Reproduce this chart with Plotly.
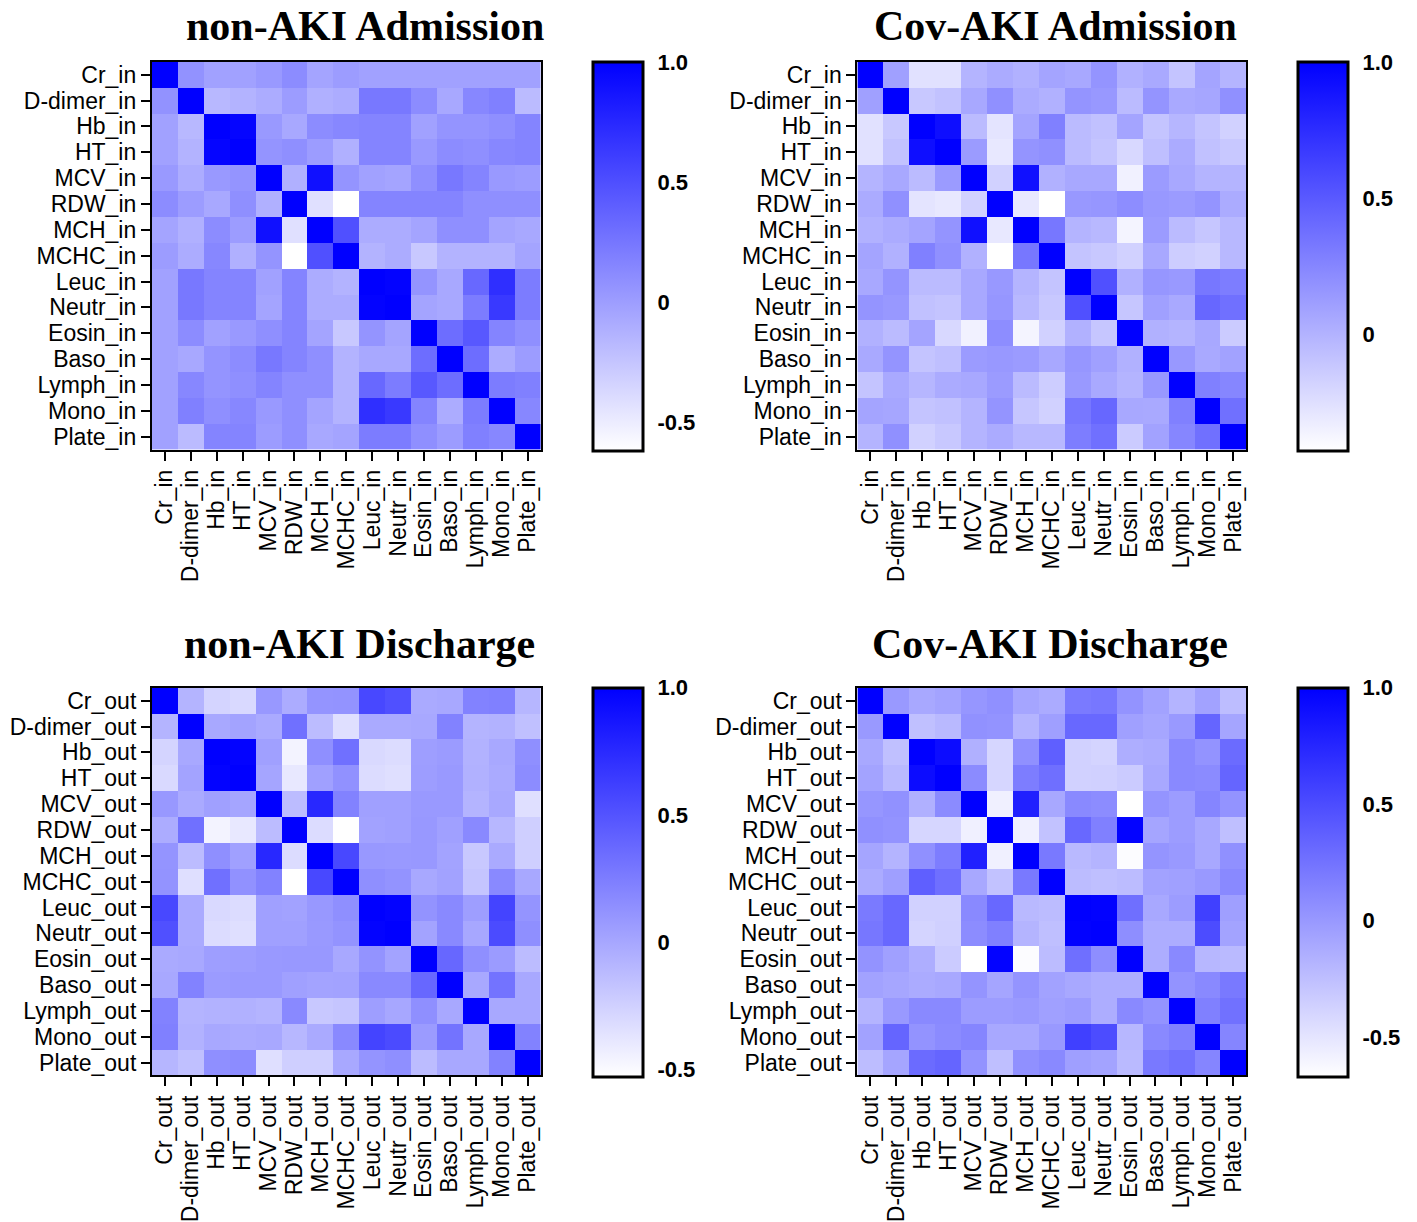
import numpy as np
import plotly.graph_objects as go

W, H = 1417, 1222

vars_base = ["Cr", "D-dimer", "Hb", "HT", "MCV", "RDW", "MCH", "MCHC",
             "Leuc", "Neutr", "Eosin", "Baso", "Lymph", "Mono", "Plate"]
labels_in = [v + "_in" for v in vars_base]
labels_out = [v + "_out" for v in vars_base]

titles = ["non-AKI Admission", "Cov-AKI Admission", "non-AKI Discharge", "Cov-AKI Discharge"]

# lower triangles (row i, columns 0..i-1) of each correlation matrix
lower_nonaki_adm = [
    [0.07],
    [-0.02, -0.17],
    [-0.02, -0.14, 0.97],
    [0.03, -0.09, 0.03, 0.06],
    [0.11, 0.01, -0.07, 0.09, -0.12],
    [-0.04, -0.12, 0.11, 0.01, 0.90, -0.42],
    [0.01, -0.09, 0.14, -0.12, 0.06, -0.62, 0.49],
    [-0.02, 0.24, 0.16, 0.16, -0.02, 0.16, -0.09, -0.14],
    [-0.02, 0.24, 0.16, 0.16, -0.04, 0.16, -0.09, -0.09, 0.98],
    [-0.02, 0.11, -0.02, 0.03, 0.09, 0.16, -0.04, -0.27, 0.06, -0.04],
    [-0.02, -0.07, 0.06, 0.11, 0.24, 0.16, 0.09, -0.14, -0.07, -0.07, 0.31],
    [-0.02, 0.14, 0.06, 0.09, 0.16, 0.09, 0.09, -0.14, 0.34, 0.21, 0.44, 0.31],
    [-0.02, 0.19, 0.09, 0.14, 0.03, 0.09, -0.04, -0.14, 0.70, 0.64, 0.16, -0.09, 0.21],
    [-0.02, -0.19, 0.16, 0.16, 0.01, 0.09, -0.07, -0.04, 0.21, 0.21, 0.09, 0.01, 0.19, 0.14],
]
lower_covaki_adm = [
    [0.10],
    [-0.26, -0.12],
    [-0.26, -0.09, 0.92],
    [-0.01, 0.06, -0.05, 0.13],
    [0.04, 0.19, -0.28, -0.30, -0.17],
    [0.01, 0.04, 0.08, 0.17, 0.91, -0.30],
    [0.08, 0.01, 0.28, 0.19, 0.01, -0.43, 0.33],
    [0.06, 0.17, -0.05, -0.05, 0.06, 0.15, -0.01, -0.10],
    [0.17, 0.15, -0.08, -0.10, 0.06, 0.16, -0.03, -0.12, 0.55],
    [0.01, -0.05, 0.08, -0.21, -0.35, 0.21, -0.37, -0.17, 0.01, -0.11],
    [0.05, 0.17, -0.10, -0.07, 0.13, 0.15, 0.13, 0.06, 0.16, 0.10, 0.01],
    [-0.10, 0.05, -0.02, 0.04, 0.06, 0.13, -0.05, -0.15, 0.14, 0.05, -0.01, 0.15],
    [0.08, 0.07, -0.10, -0.08, -0.01, 0.17, -0.11, -0.17, 0.33, 0.42, 0.06, 0.05, 0.28],
    [-0.01, 0.19, -0.17, -0.12, -0.01, 0.04, -0.03, -0.03, 0.30, 0.37, -0.14, 0.09, 0.25, 0.37],
]
lower_nonaki_dis = [
    [-0.08],
    [-0.27, -0.01],
    [-0.30, 0.02, 0.98],
    [0.09, -0.02, 0.04, 0.01],
    [-0.03, 0.33, -0.46, -0.39, -0.13],
    [0.11, -0.13, 0.14, 0.04, 0.76, -0.32],
    [0.12, -0.34, 0.33, 0.13, 0.22, -0.53, 0.57],
    [0.57, -0.02, -0.30, -0.32, 0.04, 0.03, 0.09, 0.14],
    [0.52, -0.02, -0.32, -0.34, 0.04, 0.04, 0.08, 0.12, 0.98],
    [-0.02, -0.01, 0.05, 0.06, 0.08, 0.09, 0.09, -0.01, 0.12, 0.02],
    [-0.01, 0.22, 0.07, 0.08, 0.08, 0.04, 0.02, 0.03, 0.18, 0.18, 0.38],
    [0.22, -0.08, -0.07, -0.06, -0.08, 0.18, -0.20, -0.18, 0.05, 0.00, 0.14, -0.01],
    [0.23, -0.07, -0.01, -0.02, -0.01, -0.10, -0.02, 0.18, 0.59, 0.55, 0.07, 0.31, -0.01],
    [-0.09, -0.15, 0.14, 0.16, -0.34, -0.24, -0.24, -0.01, 0.11, 0.14, -0.13, -0.01, -0.01, 0.22],
]
lower_covaki_dis = [
    [0.00],
    [-0.10, -0.26],
    [-0.07, -0.21, 0.92],
    [0.02, 0.05, -0.15, 0.09],
    [0.06, 0.04, -0.40, -0.40, -0.57],
    [-0.08, -0.18, 0.06, 0.18, 0.79, -0.57],
    [-0.12, -0.04, 0.38, 0.27, -0.10, -0.27, 0.21],
    [0.20, 0.32, -0.37, -0.37, 0.10, 0.32, -0.21, -0.23],
    [0.22, 0.32, -0.39, -0.36, 0.08, 0.16, -0.18, -0.25, 0.99],
    [0.04, -0.05, -0.14, -0.33, -0.67, 0.98, -0.65, -0.23, 0.27, 0.07],
    [-0.06, -0.09, -0.12, -0.10, 0.03, -0.08, 0.03, -0.06, -0.10, -0.13, -0.13],
    [-0.18, 0.00, 0.10, 0.10, -0.02, -0.02, 0.00, -0.05, -0.02, -0.13, 0.10, 0.04],
    [-0.06, 0.34, 0.04, 0.09, 0.13, -0.10, -0.10, 0.00, 0.58, 0.50, -0.20, 0.10, 0.16],
    [-0.24, -0.08, 0.30, 0.34, 0.04, -0.25, 0.06, 0.10, -0.04, -0.07, -0.22, 0.21, 0.26, 0.13],
]

# colour-scale ranges of each panel
zmins = [-0.62, -0.43, -0.53, -0.67]
zmaxs = [1.0, 1.0, 1.0, 1.0]
cb_tickvals = [[-0.5, 0, 0.5, 1.0], [0, 0.5, 1.0], [-0.5, 0, 0.5, 1.0], [-0.5, 0, 0.5, 1.0]]
cb_ticktext = [["-0.5", "0", "0.5", "1.0"], ["0", "0.5", "1.0"],
               ["-0.5", "0", "0.5", "1.0"], ["-0.5", "0", "0.5", "1.0"]]


def full_matrix(lower):
    n = len(lower) + 1
    m = np.eye(n)
    for i, row in enumerate(lower, start=1):
        for j, v in enumerate(row):
            m[i, j] = v
            m[j, i] = v
    return m


mats = [full_matrix(lower_nonaki_adm), full_matrix(lower_covaki_adm),
        full_matrix(lower_nonaki_dis), full_matrix(lower_covaki_dis)]
labs = [labels_in, labels_in, labels_out, labels_out]

# pixel layout
hm_left = [151, 857, 151, 857]
hm_top = [62, 62, 690, 690]
hm_size = 389
cb_left = [592, 1298, 592, 1298]
cb_thick = 50
title_cx = [364, 1055, 359, 1050]
title_cy = [26, 26, 646, 646]

fig = go.Figure()
shapes = []
annotations = []
tick_font = dict(family="Liberation Sans, Arial, sans-serif", size=23, color="black")

for k in range(4):
    ax = "" if k == 0 else str(k + 1)
    x0 = hm_left[k] / W
    x1 = (hm_left[k] + hm_size) / W
    y1 = 1 - hm_top[k] / H
    y0 = 1 - (hm_top[k] + hm_size) / H
    fig.add_trace(go.Heatmap(
        z=mats[k], x=labs[k], y=labs[k],
        zmin=zmins[k], zmax=zmaxs[k],
        colorscale=[[0, "#FFFFFF"], [1, "#0000FF"]],
        xaxis="x" + ax, yaxis="y" + ax,
        hoverongaps=False,
        colorbar=dict(
            x=cb_left[k] / W, xanchor="left", xpad=0,
            y=y1, yanchor="top", ypad=0,
            len=hm_size, lenmode="pixels",
            thickness=cb_thick, thicknessmode="pixels",
            outlinewidth=3, outlinecolor="black",
            tickvals=cb_tickvals[k], ticktext=cb_ticktext[k],
            ticks="outside", ticklen=9, tickwidth=1, tickcolor="rgba(0,0,0,0)",
            tickfont=dict(family="Liberation Sans, Arial, sans-serif", size=22, color="black",
                          weight="bold"),
        ),
    ))
    axis_common = dict(
        showline=True, mirror=True, linecolor="black", linewidth=2,
        ticks="outside", ticklen=9, tickwidth=2, tickcolor="black",
        tickfont=tick_font, showgrid=False, zeroline=False,
        type="category", fixedrange=True,
        tickmode="array", tickvals=labs[k], ticktext=labs[k],
    )
    fig.update_layout(**{
        "xaxis" + ax: dict(domain=[x0, x1], anchor="y" + ax, tickangle=-90,
                           categoryorder="array", categoryarray=labs[k], **axis_common),
        "yaxis" + ax: dict(domain=[y0, y1], anchor="x" + ax, autorange="reversed",
                           categoryorder="array", categoryarray=labs[k], **axis_common),
    })
    # inward tick marks on both sides of the colour bar
    for tv in cb_tickvals[k]:
        frac = (tv - zmins[k]) / (zmaxs[k] - zmins[k])
        if frac >= 0.999:
            continue
        yp = y0 + frac * (y1 - y0)
        for xa, xb in [(cb_left[k], cb_left[k] + 9),
                       (cb_left[k] + cb_thick - 9, cb_left[k] + cb_thick)]:
            shapes.append(dict(type="line", xref="paper", yref="paper",
                               x0=xa / W, x1=xb / W, y0=yp, y1=yp,
                               line=dict(color="black", width=3)))
    annotations.append(dict(
        text="<b>" + titles[k] + "</b>", xref="paper", yref="paper",
        x=title_cx[k] / W, y=1 - title_cy[k] / H, xanchor="center", yanchor="middle",
        showarrow=False,
        font=dict(family="Liberation Serif, Times New Roman, serif", size=42, color="black"),
    ))

fig.update_layout(
    width=W, height=H,
    margin=dict(l=0, r=0, t=0, b=0),
    paper_bgcolor="white", plot_bgcolor="white",
    shapes=shapes, annotations=annotations,
    showlegend=False,
)

fig.write_html("out.html", config={"displayModeBar": False},
               post_script="document.body.style.margin='0';document.body.style.padding='0';")
